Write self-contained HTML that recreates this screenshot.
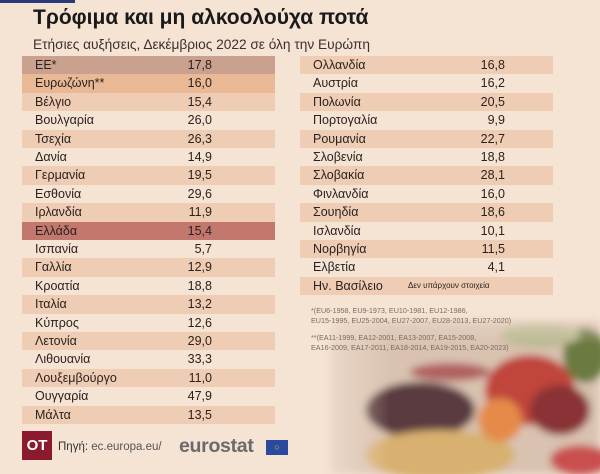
<!DOCTYPE html>
<html><head><meta charset="utf-8"><style>
body{margin:0;width:600px;height:474px;overflow:hidden;background:#f5e3d4;font-family:"Liberation Sans","DejaVu Sans",sans-serif;position:relative;color:#2a2220}
.abs{position:absolute}
.row{position:absolute;height:18.4px;font-size:12.5px;line-height:18.4px}
.row .l{position:absolute;left:13px}
.row .v{position:absolute;text-align:right}
.note{font-size:7.2px;color:#7a6a62;line-height:10px;font-family:"Liberation Sans Narrow","Liberation Sans",sans-serif}
</style></head><body>
<svg class="abs" style="left:0;top:0" width="600" height="474">
<defs>
<filter id="b"><feGaussianBlur stdDeviation="4"/></filter>
<linearGradient id="fade" x1="0" x2="1" y1="0" y2="0"><stop offset="0" stop-color="#f5e3d4" stop-opacity="1"/><stop offset="0.3" stop-color="#f5e3d4" stop-opacity="0"/></linearGradient>
<linearGradient id="fadev" x1="0" x2="0" y1="0" y2="1"><stop offset="0" stop-color="#f5e3d4" stop-opacity="1"/><stop offset="0.3" stop-color="#f5e3d4" stop-opacity="0"/></linearGradient>
</defs>
<g filter="url(#b)">
<rect x="330" y="320" width="270" height="154" fill="#d9c2b0"/>
<ellipse cx="420" cy="410" rx="55" ry="28" fill="#5a3a40"/>
<ellipse cx="440" cy="455" rx="75" ry="25" fill="#d8b070"/>
<ellipse cx="530" cy="390" rx="45" ry="35" fill="#c0443a"/>
<ellipse cx="500" cy="420" rx="22" ry="22" fill="#e58a4a"/>
<ellipse cx="560" cy="410" rx="30" ry="25" fill="#8a3035"/>
<ellipse cx="585" cy="355" rx="22" ry="28" fill="#6a7a40"/>
<ellipse cx="580" cy="460" rx="30" ry="15" fill="#c95050"/>
<ellipse cx="450" cy="372" rx="40" ry="9" fill="#b06060"/>
<ellipse cx="540" cy="335" rx="40" ry="12" fill="#b8b890"/>
</g>
<rect x="300" y="290" width="300" height="184" fill="url(#fade)"/>
<rect x="300" y="290" width="300" height="184" fill="url(#fadev)"/>
<rect x="0" y="0" width="75" height="3" fill="#2a3a7a"/>
</svg>
<div class="abs" style="left:33px;top:6px;font-size:21px;font-weight:bold;color:#1a1a1a">Τρόφιμα και μη αλκοολούχα ποτά</div>
<div class="abs" style="left:33px;top:37px;font-size:13.7px;color:#3a3030">Ετήσιες αυξήσεις, Δεκέμβριος 2022 σε όλη την Ευρώπη</div>
<div id="tbl"></div>
<div class="abs note" style="left:311px;top:306px">*(EU6-1958, EU9-1973, EU10-1981, EU12-1986,<br>EU15-1995, EU25-2004, EU27-2007, EU28-2013, EU27-2020)</div>
<div class="abs note" style="left:311px;top:333px">**(EA11-1999, EA12-2001, EA13-2007, EA15-2008,<br>EA16-2009, EA17-2011, EA18-2014, EA19-2015, EA20-2023)</div>
<div class="abs" style="left:22px;top:431px;width:30px;height:29px;background:#8b1a2e;color:#fff;font-weight:bold;font-size:15px;line-height:29px;text-align:center">OT</div>
<div class="abs" style="left:58px;top:441px;font-size:11.5px;color:#555"><span style="color:#333">Πηγή:</span> ec.europa.eu/</div>
<div class="abs" style="left:179px;top:435px;font-size:19.5px;font-weight:bold;color:#6a6a6a;letter-spacing:-0.3px">eurostat</div>
<div class="abs" style="left:266px;top:440px;width:22px;height:15px;background:#2a4aa0;color:#e8c020;font-size:9px;line-height:15px;text-align:center">○</div>
<script>
const leftNames=["ΕΕ*","Ευρωζώνη**","Βέλγιο","Βουλγαρία","Τσεχία","Δανία","Γερμανία","Εσθονία","Ιρλανδία","Ελλάδα","Ισπανία","Γαλλία","Κροατία","Ιταλία","Κύπρος","Λετονία","Λιθουανία","Λουξεμβούργο","Ουγγαρία","Μάλτα"];
const leftVals=["17,8","16,0","15,4","26,0","26,3","14,9","19,5","29,6","11,9","15,4","5,7","12,9","18,8","13,2","12,6","29,0","33,3","11,0","47,9","13,5"];
const rightNames=["Ολλανδία","Αυστρία","Πολωνία","Πορτογαλία","Ρουμανία","Σλοβενία","Σλοβακία","Φινλανδία","Σουηδία","Ισλανδία","Νορβηγία","Ελβετία","Ην. Βασίλειο"];
const rightVals=["16,8","16,2","20,5","9,9","22,7","18,8","28,1","16,0","18,6","10,1","11,5","4,1",""];
const tbl=document.getElementById('tbl');
function col(names,vals,x,w,vx,bgFn){
 names.forEach((n,i)=>{
  const r=document.createElement('div');r.className='row';
  
  
  r.style.left=x+'px';r.style.top=(56+i*18.4)+'px';r.style.width=w+'px';
  const bg=bgFn(i);if(bg)r.style.background=bg;
  const l=document.createElement('span');l.className='l';l.textContent=n;
  
  
  const v=document.createElement('span');v.className='v';
  
  
  if(vals[i]){v.textContent=vals[i];v.style.right=(w-vx)+'px';}
  else{v.textContent='Δεν υπάρχουν στοιχεία';v.style.left='108px';v.style.fontSize='8px';}
  r.appendChild(l);r.appendChild(v);tbl.appendChild(r);
 });
}
const S='#efcdb4';
col(leftNames,leftVals,22,253,190,i=>i==0?'#c9a18e':i==1?'#e9b995':i==9?'#c3786e':([2,4,6,8,11,13,15,17,19].includes(i)?S:''));
col(rightNames,rightVals,300,253,205,i=>i%2==0?S:'');
</script>
</body></html>
